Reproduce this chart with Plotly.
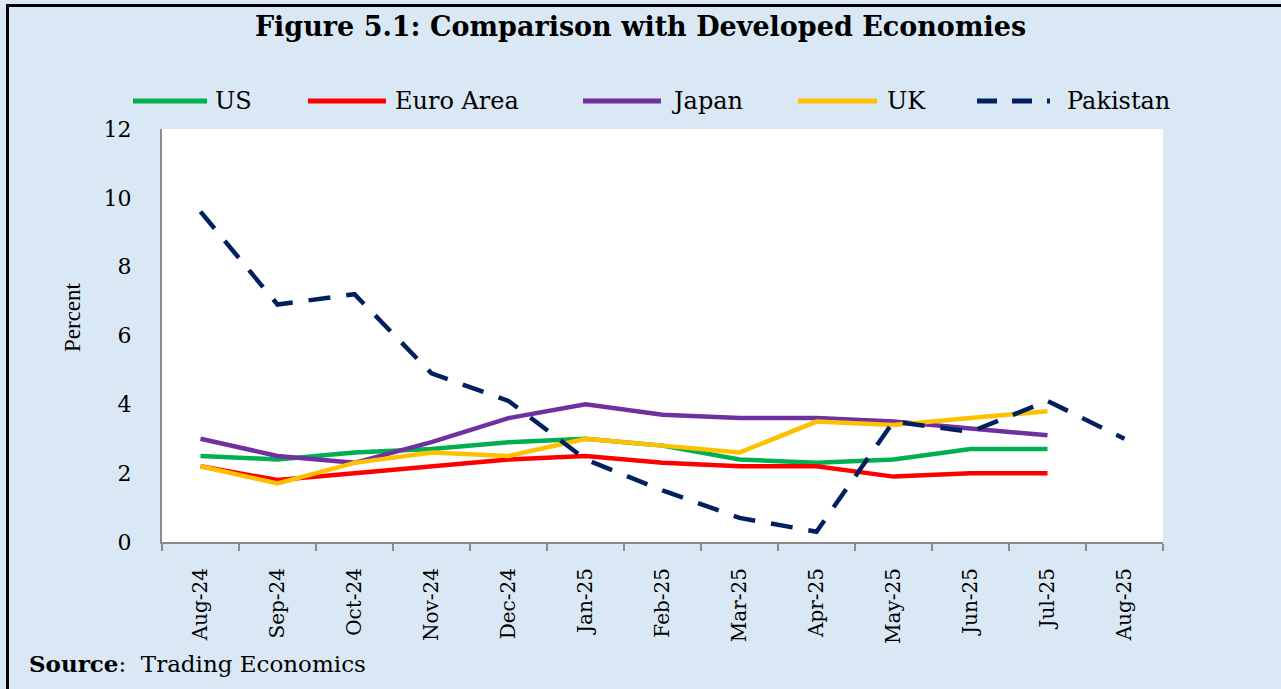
import plotly.graph_objects as go

# ---- data ----
months = ["Aug-24", "Sep-24", "Oct-24", "Nov-24", "Dec-24", "Jan-25", "Feb-25",
          "Mar-25", "Apr-25", "May-25", "Jun-25", "Jul-25", "Aug-25"]
us = [2.5, 2.4, 2.6, 2.7, 2.9, 3.0, 2.8, 2.4, 2.3, 2.4, 2.7, 2.7, None]
euro_area = [2.2, 1.8, 2.0, 2.2, 2.4, 2.5, 2.3, 2.2, 2.2, 1.9, 2.0, 2.0, None]
japan = [3.0, 2.5, 2.3, 2.9, 3.6, 4.0, 3.7, 3.6, 3.6, 3.5, 3.3, 3.1, None]
uk = [2.2, 1.7, 2.3, 2.6, 2.5, 3.0, 2.8, 2.6, 3.5, 3.4, 3.6, 3.8, None]
pakistan = [9.6, 6.9, 7.2, 4.9, 4.1, 2.4, 1.5, 0.7, 0.3, 3.5, 3.2, 4.1, 3.0]
y_ticks = [0, 2, 4, 6, 8, 10, 12]

series_names = ["US", "Euro Area", "Japan", "UK", "Pakistan"]
series_values = [us, euro_area, japan, uk, pakistan]
series_colors = ["#00B050", "#FF0000", "#7030A0", "#FFC000", "#002060"]
series_dash = ["solid", "solid", "solid", "solid", "22px,16px"]

W, H = 1281, 689
L, R, T, B = 162, 118, 129, 147
PW, PH = W - L - R, H - T - B

def px(x):
    return (x - L) / PW

def py(y):
    return (H - B - y) / PH

BG = "#DAE8F6"
SERIF = "DejaVu Serif"

fig = go.Figure()
for name, vals, col, dash in zip(series_names, series_values, series_colors, series_dash):
    fig.add_trace(go.Scatter(
        x=months, y=vals, name=name, mode="lines",
        line=dict(color=col, width=4.5, dash=dash),
        showlegend=False, connectgaps=False,
    ))

shapes = []
annotations = []

# custom legend (swatch positions in pixels)
legend_items = [(133, 207, 213), (308, 386, 393), (583, 661, 669), (798, 877, 885), (977, 1050, 1065)]
for (x0, x1, xt), name, col, dash in zip(legend_items, series_names, series_colors, series_dash):
    shapes.append(dict(type="line", xref="paper", yref="paper",
                       x0=px(x0), x1=px(x1), y0=py(101), y1=py(101),
                       line=dict(color=col, width=5, dash="20px,15px" if dash != "solid" else "solid")))
    annotations.append(dict(text=name, xref="paper", yref="paper", x=px(xt), y=py(101),
                            xanchor="left", yanchor="middle", showarrow=False,
                            font=dict(family=SERIF, size=24, color="#000000")))

# y axis title
annotations.append(dict(text="Percent", xref="paper", yref="paper", x=px(72), y=py(317),
                        xanchor="center", yanchor="middle", textangle=-90, showarrow=False,
                        font=dict(family="Liberation Serif", size=23, color="#000000")))

# source note
annotations.append(dict(text="<b>Source</b>:  Trading Economics", xref="paper", yref="paper",
                        x=px(27), y=py(663), xanchor="left", yanchor="middle", showarrow=False,
                        font=dict(family=SERIF, size=23, color="#000000")))

# outer border (top and left)
shapes.append(dict(type="line", xref="paper", yref="paper", x0=px(6), x1=px(W + 5),
                   y0=py(5.5), y1=py(5.5), line=dict(color="#000000", width=3), layer="above"))
shapes.append(dict(type="line", xref="paper", yref="paper", x0=px(7.5), x1=px(7.5),
                   y0=py(4), y1=py(H + 5), line=dict(color="#000000", width=3), layer="above"))

fig.update_layout(
    width=W, height=H,
    margin=dict(l=L, r=R, t=T, b=B, pad=0),
    paper_bgcolor=BG, plot_bgcolor="#FFFFFF",
    title=dict(text="<b>Figure 5.1: Comparison with Developed Economies</b>",
               x=0.5, xref="container", xanchor="center",
               y=1 - 27 / H, yref="container", yanchor="middle",
               font=dict(family=SERIF, size=27, color="#000000")),
    shapes=shapes, annotations=annotations,
    showlegend=False,
)
fig.update_xaxes(
    type="category", categoryorder="array", categoryarray=months,
    range=[-0.5, len(months) - 0.5],
    showline=True, linecolor="#8C8C8C", linewidth=2,
    ticks="outside", tickson="boundaries", ticklen=7, tickcolor="#8C8C8C", tickwidth=2,
    tickangle=-90, ticklabelstandoff=16,
    tickfont=dict(family=SERIF, size=20, color="#000000"),
    showgrid=False, zeroline=False,
)
fig.update_yaxes(
    range=[0, 12], tickvals=y_ticks, ticktext=[str(v) for v in y_ticks],
    showline=True, linecolor="#8C8C8C", linewidth=2,
    ticks="", ticklabelstandoff=24,
    tickfont=dict(family=SERIF, size=22, color="#000000"),
    showgrid=False, zeroline=False,
)

fig.write_html("out.html", config={"displayModeBar": False},
               post_script="document.body.style.margin='0';document.body.style.overflow='hidden';")
